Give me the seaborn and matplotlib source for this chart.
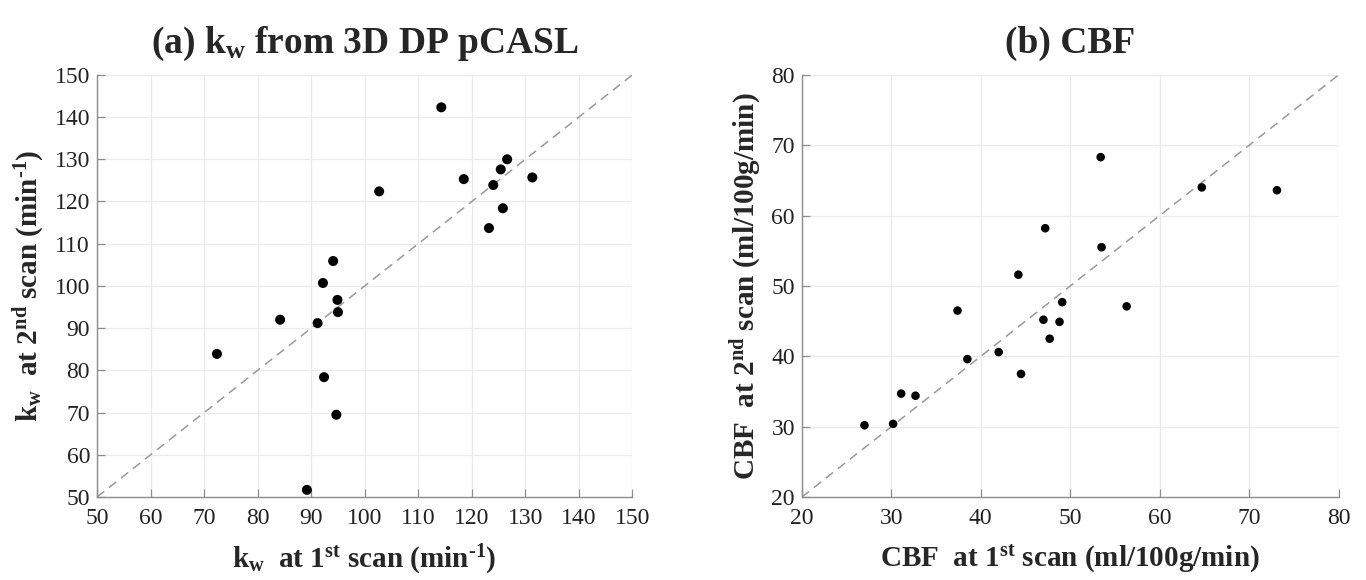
import matplotlib
matplotlib.use("Agg")
import matplotlib.pyplot as plt
import seaborn as sns
import pandas as pd

# (a) kw from 3D DP pCASL, scan 1 vs scan 2 (min^-1)
kw_scan1 = [72.4, 84.2, 89.2, 91.2, 92.2, 92.4, 94.1, 94.9, 95.0, 94.7,
            102.7, 114.3, 118.5, 123.2, 124.0, 125.4, 125.8, 126.6, 131.3]
kw_scan2 = [83.9, 92.0, 51.7, 91.2, 100.7, 78.4, 105.9, 96.7, 93.8, 69.5,
            122.4, 142.3, 125.3, 113.7, 123.9, 127.6, 118.4, 130.0, 125.7]

# (b) CBF, scan 1 vs scan 2 (ml/100g/min)
cbf_scan1 = [27.0, 30.2, 31.1, 32.7, 37.4, 38.5, 42.0, 44.2, 44.5, 47.0,
             47.2, 47.7, 48.8, 49.1, 53.4, 53.5, 56.3, 64.7, 73.1]
cbf_scan2 = [30.2, 30.4, 34.7, 34.4, 46.5, 39.6, 40.6, 51.6, 37.5, 45.2,
             58.2, 42.5, 44.9, 47.7, 68.3, 55.5, 47.1, 64.0, 63.6]

kw_ticks = list(range(50, 151, 10))
cbf_ticks = list(range(20, 81, 10))

sns.set_theme(style="whitegrid")
plt.rcParams['font.family'] = ['Liberation Serif', 'DejaVu Serif']
plt.rcParams['mathtext.fontset'] = 'custom'
plt.rcParams['mathtext.rm'] = 'Liberation Serif'
plt.rcParams['mathtext.bf'] = 'Liberation Serif:bold'
plt.rcParams['mathtext.it'] = 'Liberation Serif:italic'

df_kw = pd.DataFrame({'s1': kw_scan1, 's2': kw_scan2})
df_cbf = pd.DataFrame({'s1': cbf_scan1, 's2': cbf_scan2})

fig = plt.figure(figsize=(13.66, 5.8), dpi=100)
ax1 = fig.add_axes([0.071, 0.143, 0.392, 0.728])
ax2 = fig.add_axes([0.587, 0.143, 0.393, 0.728])


def style_ax(ax, ticks):
    lo, hi = ticks[0], ticks[-1]
    ax.plot([lo, hi], [lo, hi], ls=(0, (6, 4)), color='#999999', lw=1.1, zorder=1)
    ax.set_xlim(lo, hi)
    ax.set_ylim(lo, hi)
    ax.set_xticks(ticks)
    ax.set_yticks(ticks)
    ax.set_facecolor('white')
    ax.grid(True, color='#ebebeb', lw=0.9)
    for side in ['top', 'right']:
        ax.spines[side].set_visible(False)
    for side in ['left', 'bottom']:
        ax.spines[side].set_visible(True)
        ax.spines[side].set_color('#8c8c8c')
        ax.spines[side].set_linewidth(1.0)
    ax.tick_params(axis='both', direction='in', length=6, width=0.9,
                   color='#8c8c8c', labelsize=17, labelcolor='#222222',
                   bottom=True, left=True)
    ax.tick_params(axis='x', pad=8)
    ax.tick_params(axis='y', pad=5)


sns.scatterplot(data=df_kw, x='s1', y='s2', ax=ax1, color='black',
                s=52, edgecolor='none', zorder=3)
style_ax(ax1, kw_ticks)
ax1.set_title(r'(a) k$_\mathbf{w}$ from 3D DP pCASL', fontsize=27,
              fontweight='bold', pad=16)
ax1.set_xlabel('k$_\\mathbf{w}$  at 1$^\\mathbf{st}$ scan (min$^\\mathbf{\u20101}$)',
               fontsize=21, fontweight='bold', labelpad=10)
ax1.set_ylabel('k$_\\mathbf{w}$  at 2$^\\mathbf{nd}$ scan (min$^\\mathbf{\u20101}$)',
               fontsize=21, fontweight='bold', labelpad=6)

sns.scatterplot(data=df_cbf, x='s1', y='s2', ax=ax2, color='black',
                s=38, edgecolor='none', zorder=3)
style_ax(ax2, cbf_ticks)
ax2.set_title('(b) CBF', fontsize=27, fontweight='bold', pad=16)
ax2.set_xlabel(r'CBF  at 1$^\mathbf{st}$ scan (ml/100g/min)',
               fontsize=21, fontweight='bold', labelpad=10)
ax2.set_ylabel(r'CBF  at 2$^\mathbf{nd}$ scan (ml/100g/min)',
               fontsize=21, fontweight='bold', labelpad=6)

fig.savefig('out.png', dpi=100, facecolor='white')
